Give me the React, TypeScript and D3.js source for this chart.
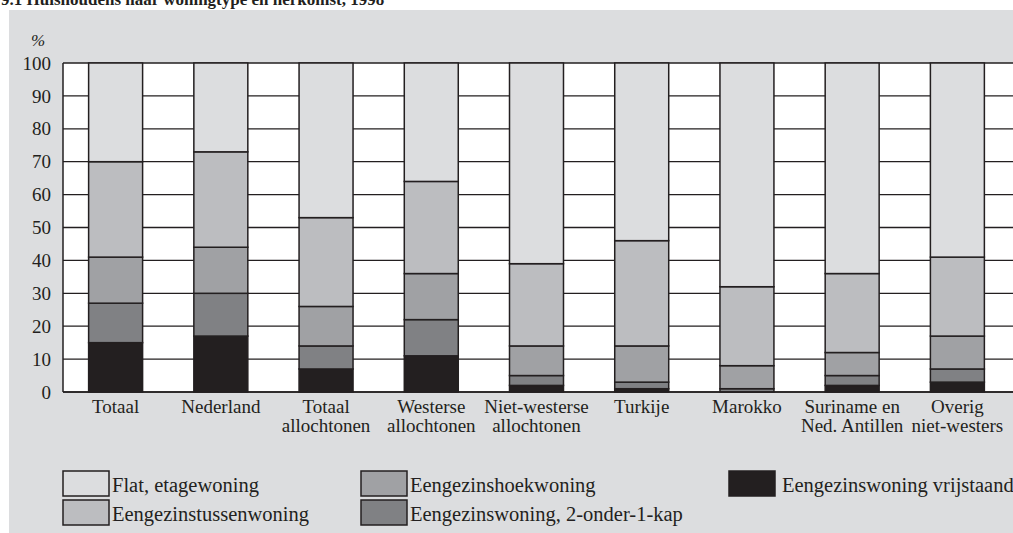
import * as d3 from 'd3';
import * as React from 'react';

const categories = [
  ['Totaal'],
  ['Nederland'],
  ['Totaal', 'allochtonen'],
  ['Westerse', 'allochtonen'],
  ['Niet-westerse', 'allochtonen'],
  ['Turkije'],
  ['Marokko'],
  ['Suriname en', 'Ned. Antillen'],
  ['Overig', 'niet-westers'],
];

// percentages per category, bottom to top
const vrijstaand = [15, 17, 7, 11, 2, 1, 0, 2, 3];
const tweeOnderEenKap = [12, 13, 7, 11, 3, 2, 1, 3, 4];
const hoekwoning = [14, 14, 12, 14, 9, 11, 7, 7, 10];
const tussenwoning = [29, 29, 27, 28, 25, 32, 24, 24, 24];
const flat = [30, 27, 47, 36, 61, 54, 68, 64, 59];

const yTicks = [0, 10, 20, 30, 40, 50, 60, 70, 80, 90, 100];

const seriesKeys = ['vrijstaand', 'tweeOnderEenKap', 'hoekwoning', 'tussenwoning', 'flat'];
const seriesColors: Record<string, string> = {
  vrijstaand: '#231f20',
  tweeOnderEenKap: '#808184',
  hoekwoning: '#a0a1a4',
  tussenwoning: '#bcbdc0',
  flat: '#dcdddf',
};

const legendItems = [
  { key: 'flat', label: 'Flat, etagewoning', col: 0, row: 0 },
  { key: 'tussenwoning', label: 'Eengezinstussenwoning', col: 0, row: 1 },
  { key: 'hoekwoning', label: 'Eengezinshoekwoning', col: 1, row: 0 },
  { key: 'tweeOnderEenKap', label: 'Eengezinswoning, 2-onder-1-kap', col: 1, row: 1 },
  { key: 'vrijstaand', label: 'Eengezinswoning vrijstaand', col: 2, row: 0 },
];

const W = 1013;
const H = 533;
const font = '"Liberation Serif", "Times New Roman", serif';
const ink = '#231f20';

export default function App() {
  const rows = categories.map((c, i) => ({
    name: c.join(' '),
    vrijstaand: vrijstaand[i],
    tweeOnderEenKap: tweeOnderEenKap[i],
    hoekwoning: hoekwoning[i],
    tussenwoning: tussenwoning[i],
    flat: flat[i],
  }));

  const x = d3
    .scaleBand<string>()
    .domain(rows.map((r) => r.name))
    .range([63, 1010])
    .paddingInner(0.487)
    .paddingOuter(0.2435);
  const y = d3.scaleLinear().domain([0, 100]).range([392, 63]);

  const stack = d3.stack<any>().keys(seriesKeys)(rows);

  const legendCols = [63, 361, 729];
  const legendRows = [471, 500];

  return (
    <svg
      width={W}
      height={H}
      style={{ position: 'absolute', left: 0, top: 0, display: 'block' }}
      fontFamily={font}
    >
      <rect x={0} y={0} width={W} height={H} fill="#fff" />
      {/* title, cropped at the top edge like in the source scan */}
      <text x={1} y={5} fontSize={17} fontWeight="bold" fill={ink}>
        9.1 Huishoudens naar woningtype en herkomst, 1998
      </text>
      <rect x={9} y={10} width={W - 9} height={H - 10} fill="#dcdddf" />

      {/* plot area */}
      <rect x={63} y={y(100)} width={W - 63} height={y(0) - y(100)} fill="#fff" />
      {yTicks.map((t) => (
        <g key={t}>
          <line x1={63} x2={W} y1={y(t)} y2={y(t)} stroke={ink} strokeWidth={1.3} />
          <text x={51} y={y(t)} dy="0.35em" textAnchor="end" fontSize={19} fill={ink}>
            {t}
          </text>
        </g>
      ))}
      <line x1={63} x2={63} y1={y(100)} y2={y(0)} stroke={ink} strokeWidth={1.5} />
      <text x={31} y={46} fontSize={17} fontStyle="italic" fill={ink}>
        %
      </text>

      {stack.map((s) => (
        <g key={s.key}>
          {s.map((d, i) =>
            d[1] - d[0] > 0 ? (
              <rect
                key={i}
                x={x(rows[i].name)}
                width={x.bandwidth()}
                y={y(d[1])}
                height={y(d[0]) - y(d[1])}
                fill={seriesColors[s.key]}
                stroke={ink}
                strokeWidth={1.5}
              />
            ) : null,
          )}
        </g>
      ))}
      <line x1={63} x2={W} y1={y(0)} y2={y(0)} stroke={ink} strokeWidth={1.5} />

      {categories.map((c, i) => (
        <text
          key={i}
          x={(x(rows[i].name) ?? 0) + x.bandwidth() / 2}
          y={413}
          textAnchor="middle"
          fontSize={19}
          fill={ink}
        >
          {c.map((line, j) => (
            <tspan key={j} x={(x(rows[i].name) ?? 0) + x.bandwidth() / 2} dy={j === 0 ? 0 : 19}>
              {line}
            </tspan>
          ))}
        </text>
      ))}

      {legendItems.map((l) => (
        <g key={l.key}>
          <rect
            x={legendCols[l.col]}
            y={legendRows[l.row]}
            width={46}
            height={25}
            fill={seriesColors[l.key]}
            stroke={ink}
            strokeWidth={1.5}
          />
          <text
            x={legendCols[l.col] + (l.col === 2 ? 53 : 49)}
            y={legendRows[l.row] + 21}
            fontSize={20.5}
            fill={ink}
          >
            {l.label}
          </text>
        </g>
      ))}
    </svg>
  );
}
